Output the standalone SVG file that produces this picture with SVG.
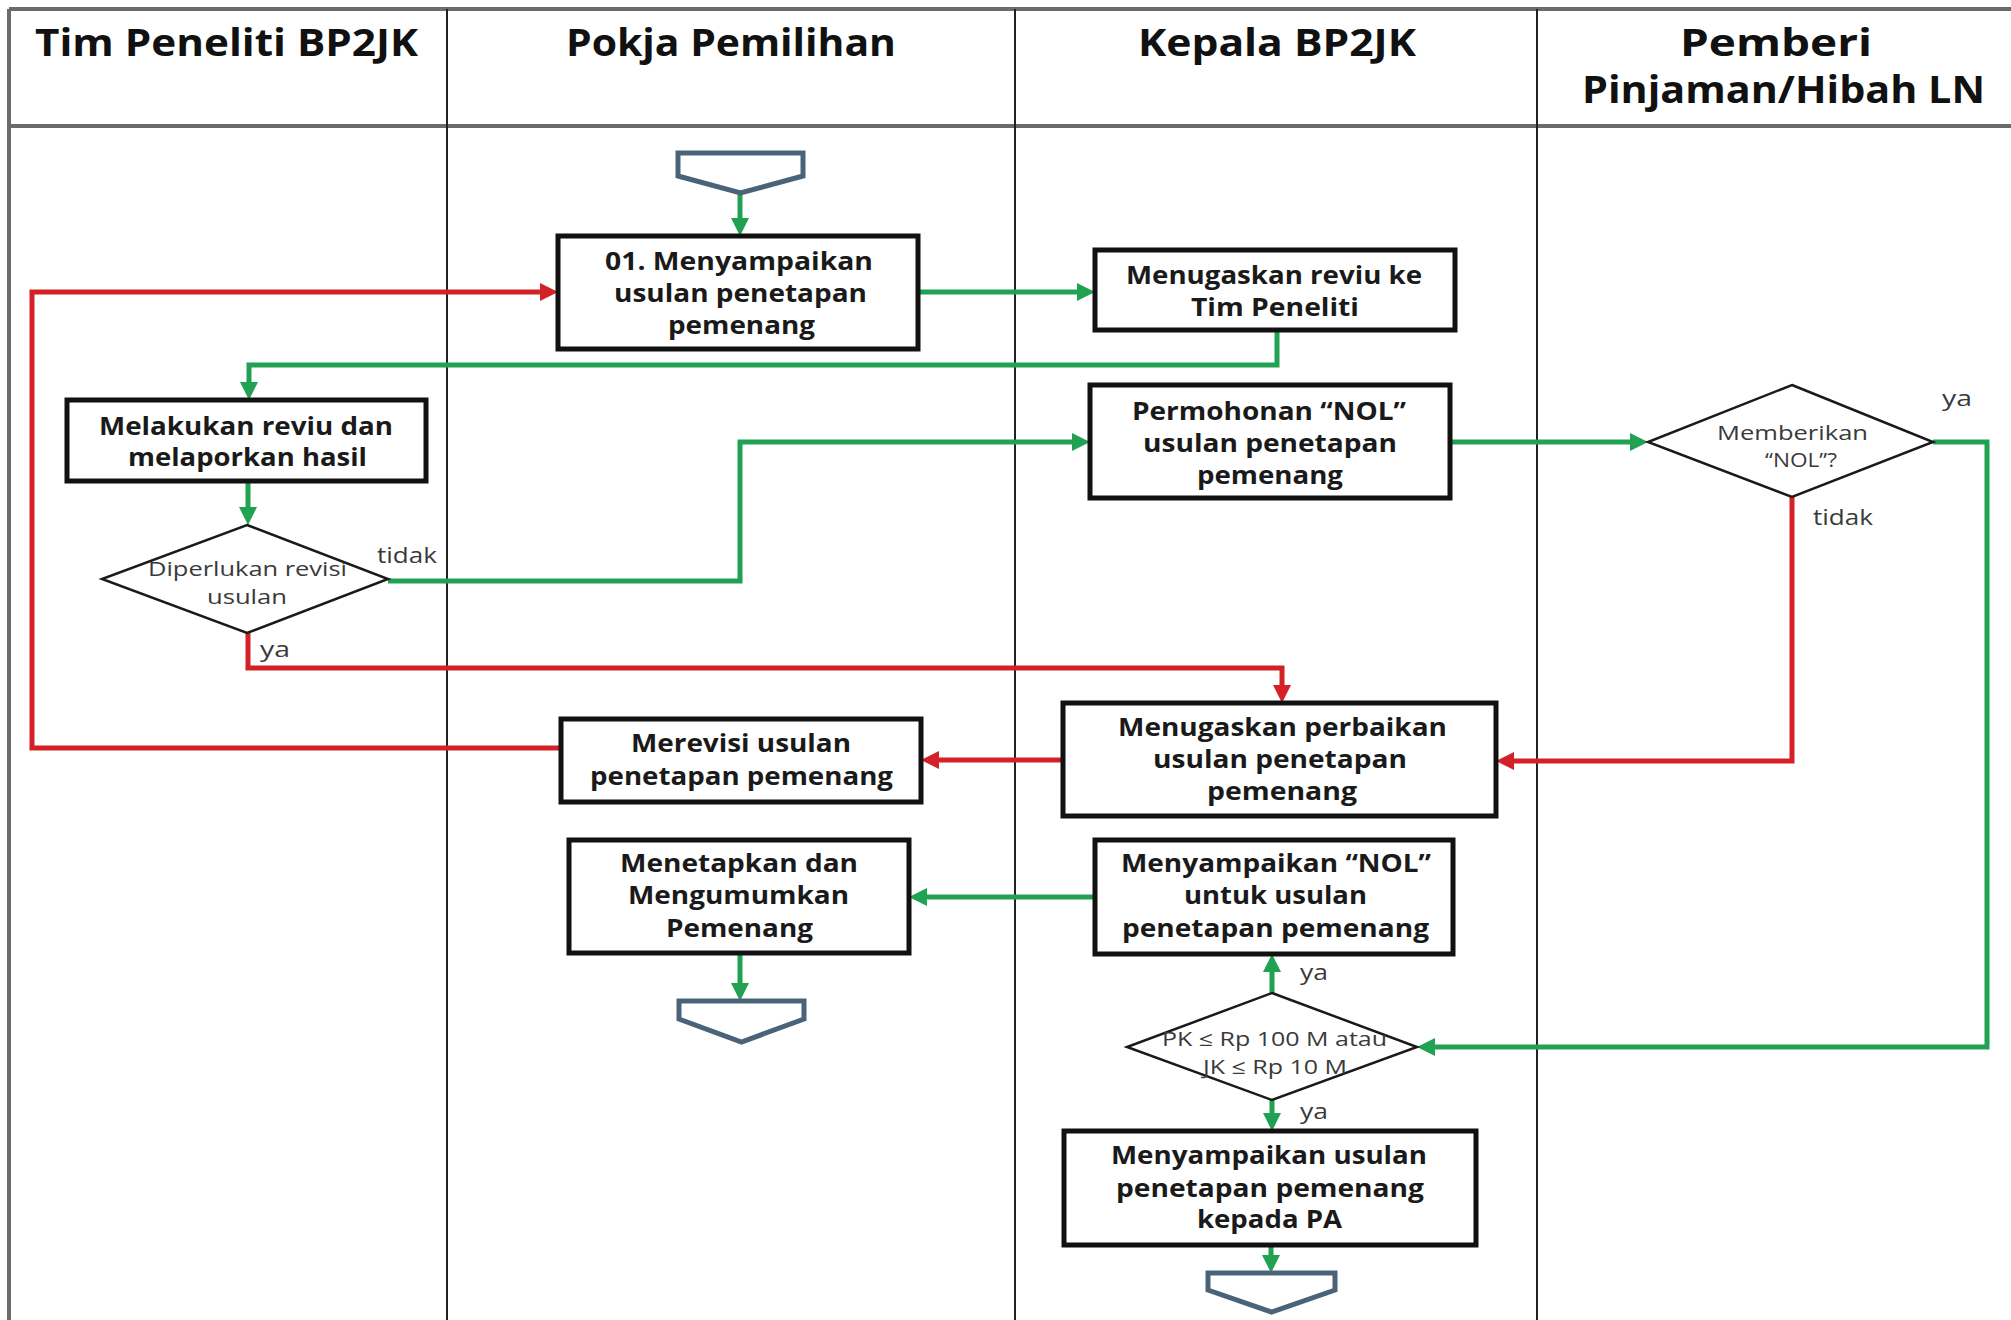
<svg xmlns="http://www.w3.org/2000/svg" width="2011" height="1320" viewBox="0 0 2011 1320">
  <style>
    .lane { stroke: #222; stroke-width: 2; fill: none; }
    .frame { stroke: #6b6b6b; stroke-width: 4; fill: none; }
    .head { font-family: "Open Sans", "DejaVu Sans", sans-serif; font-weight: 700; font-size: 37px; fill: #111; }
    .box { fill: #fff; stroke: #111; stroke-width: 5; }
    .btxt { font-family: "Open Sans", "DejaVu Sans", sans-serif; font-weight: 700; font-size: 25px; fill: #1a1a1a; }
    .dia { fill: #fff; stroke: #1a1a1a; stroke-width: 2.5; }
    .dtxt { font-family: "Open Sans", "DejaVu Sans", sans-serif; font-weight: 400; font-size: 20px; fill: #3a3a3a; }
    .lbl { font-family: "Open Sans", "DejaVu Sans", sans-serif; font-weight: 400; font-size: 21px; fill: #3a3a3a; }
    .term { fill: #fff; stroke: #4b6379; stroke-width: 5; stroke-linejoin: miter; }
    .g { fill: none; stroke: #21a152; stroke-width: 5; marker-end: url(#ag); }
    .r { fill: none; stroke: #d42027; stroke-width: 5; marker-end: url(#ar); }
  </style>
  <defs>
    <marker id="ag" markerUnits="userSpaceOnUse" viewBox="0 0 18 18" markerWidth="18" markerHeight="18" refX="10" refY="9" orient="auto">
      <path d="M0,0 L18,9 L0,18 Z" fill="#21a152"/>
    </marker>
    <marker id="ar" markerUnits="userSpaceOnUse" viewBox="0 0 18 18" markerWidth="18" markerHeight="18" refX="10" refY="9" orient="auto">
      <path d="M0,0 L18,9 L0,18 Z" fill="#d42027"/>
    </marker>
  </defs>

  <rect x="0" y="0" width="2011" height="1320" fill="#fff"/>

  <!-- swimlane grid -->
  <g id="lanes">
    <line class="frame" x1="9" y1="9" x2="2011" y2="9"/>
    <line class="frame" x1="9" y1="126" x2="2011" y2="126"/>
    <line class="frame" x1="9" y1="9" x2="9" y2="1320"/>
    <line class="lane" x1="447" y1="9" x2="447" y2="1320"/>
    <line class="lane" x1="1015" y1="9" x2="1015" y2="1320"/>
    <line class="lane" x1="1537" y1="9" x2="1537" y2="1320"/>
    <text class="head" x="35" y="56" textLength="383" lengthAdjust="spacingAndGlyphs">Tim Peneliti BP2JK</text>
    <text class="head" x="566" y="56" textLength="330" lengthAdjust="spacingAndGlyphs">Pokja Pemilihan</text>
    <text class="head" x="1138" y="56" textLength="278" lengthAdjust="spacingAndGlyphs">Kepala BP2JK</text>
    <text class="head" x="1680" y="56" textLength="192" lengthAdjust="spacingAndGlyphs">Pemberi</text>
    <text class="head" x="1582" y="103" textLength="403" lengthAdjust="spacingAndGlyphs">Pinjaman/Hibah LN</text>
  </g>

  <!-- connectors -->
  <g id="connectors">
    <path class="g" d="M740,193 V228"/>
    <path class="g" d="M918,292 H1087"/>
    <path class="g" d="M1277,330 V365 H249 V392"/>
    <path class="g" d="M248,481 V517"/>
    <path class="g" d="M388,581 H740 V442 H1082"/>
    <path class="g" d="M1450,442 H1640"/>
    <path class="g" d="M1933,442 H1987 V1047 H1425"/>
    <path class="g" d="M1272,993 V962"/>
    <path class="g" d="M1095,897 H917"/>
    <path class="g" d="M740,953 V993"/>
    <path class="g" d="M1272,1100 V1123"/>
    <path class="g" d="M1271,1245 V1265"/>
    <path class="r" d="M248,633 V668 H1282 V695"/>
    <path class="r" d="M1792,497 V761 H1504"/>
    <path class="r" d="M1063,760 H929"/>
    <path class="r" d="M561,748 H32 V292 H550"/>
    <text class="lbl" x="377" y="563" textLength="60" lengthAdjust="spacingAndGlyphs">tidak</text>
    <text class="lbl" x="260" y="657" textLength="30" lengthAdjust="spacingAndGlyphs">ya</text>
    <text class="lbl" x="1942" y="406" textLength="30" lengthAdjust="spacingAndGlyphs">ya</text>
    <text class="lbl" x="1813" y="525" textLength="60" lengthAdjust="spacingAndGlyphs">tidak</text>
    <text class="lbl" x="1300" y="980" textLength="28" lengthAdjust="spacingAndGlyphs">ya</text>
    <text class="lbl" x="1300" y="1119" textLength="28" lengthAdjust="spacingAndGlyphs">ya</text>
  </g>

  <!-- start / end off-page connectors -->
  <g id="start">
    <path class="term" d="M678,153 H803 V176 L740.5,193 L678,176 Z"/>
  </g>
  <g id="end-pokja">
    <path class="term" d="M679,1001 H804 V1019 L741.5,1042 L679,1019 Z"/>
  </g>
  <g id="end-kepala">
    <path class="term" d="M1208,1273 H1335 V1290 L1271.5,1312 L1208,1290 Z"/>
  </g>

  <!-- process boxes -->
  <g id="n01-menyampaikan">
    <rect class="box" x="558" y="236" width="360" height="113"/>
    <text class="btxt" x="605" y="270" textLength="268" lengthAdjust="spacingAndGlyphs">01. Menyampaikan</text>
    <text class="btxt" x="614" y="302" textLength="253" lengthAdjust="spacingAndGlyphs">usulan penetapan</text>
    <text class="btxt" x="668" y="334" textLength="147" lengthAdjust="spacingAndGlyphs">pemenang</text>
  </g>
  <g id="n02-menugaskan-reviu">
    <rect class="box" x="1095" y="250" width="360" height="80"/>
    <text class="btxt" x="1126" y="284" textLength="296" lengthAdjust="spacingAndGlyphs">Menugaskan reviu ke</text>
    <text class="btxt" x="1191" y="316" textLength="168" lengthAdjust="spacingAndGlyphs">Tim Peneliti</text>
  </g>
  <g id="n03-reviu">
    <rect class="box" x="67" y="400" width="359" height="81"/>
    <text class="btxt" x="99" y="435" textLength="294" lengthAdjust="spacingAndGlyphs">Melakukan reviu dan</text>
    <text class="btxt" x="128" y="466" textLength="239" lengthAdjust="spacingAndGlyphs">melaporkan hasil</text>
  </g>
  <g id="n04-permohonan-nol">
    <rect class="box" x="1090" y="385" width="360" height="113"/>
    <text class="btxt" x="1132" y="420" textLength="274" lengthAdjust="spacingAndGlyphs">Permohonan “NOL”</text>
    <text class="btxt" x="1143" y="452" textLength="254" lengthAdjust="spacingAndGlyphs">usulan penetapan</text>
    <text class="btxt" x="1197" y="484" textLength="146" lengthAdjust="spacingAndGlyphs">pemenang</text>
  </g>
  <g id="n05-perbaikan">
    <rect class="box" x="1063" y="703" width="433" height="113"/>
    <text class="btxt" x="1118" y="736" textLength="329" lengthAdjust="spacingAndGlyphs">Menugaskan perbaikan</text>
    <text class="btxt" x="1153" y="768" textLength="254" lengthAdjust="spacingAndGlyphs">usulan penetapan</text>
    <text class="btxt" x="1207" y="800" textLength="150" lengthAdjust="spacingAndGlyphs">pemenang</text>
  </g>
  <g id="n06-merevisi">
    <rect class="box" x="561" y="719" width="360" height="83"/>
    <text class="btxt" x="631" y="752" textLength="220" lengthAdjust="spacingAndGlyphs">Merevisi usulan</text>
    <text class="btxt" x="590" y="785" textLength="303" lengthAdjust="spacingAndGlyphs">penetapan pemenang</text>
  </g>
  <g id="n07-menyampaikan-nol">
    <rect class="box" x="1095" y="840" width="358" height="114"/>
    <text class="btxt" x="1121" y="872" textLength="310" lengthAdjust="spacingAndGlyphs">Menyampaikan “NOL”</text>
    <text class="btxt" x="1184" y="904" textLength="183" lengthAdjust="spacingAndGlyphs">untuk usulan</text>
    <text class="btxt" x="1122" y="937" textLength="307" lengthAdjust="spacingAndGlyphs">penetapan pemenang</text>
  </g>
  <g id="n08-menetapkan">
    <rect class="box" x="569" y="840" width="340" height="113"/>
    <text class="btxt" x="620" y="872" textLength="238" lengthAdjust="spacingAndGlyphs">Menetapkan dan</text>
    <text class="btxt" x="628" y="904" textLength="221" lengthAdjust="spacingAndGlyphs">Mengumumkan</text>
    <text class="btxt" x="666" y="937" textLength="147" lengthAdjust="spacingAndGlyphs">Pemenang</text>
  </g>
  <g id="n09-kepada-pa">
    <rect class="box" x="1064" y="1131" width="412" height="114"/>
    <text class="btxt" x="1111" y="1164" textLength="316" lengthAdjust="spacingAndGlyphs">Menyampaikan usulan</text>
    <text class="btxt" x="1116" y="1197" textLength="308" lengthAdjust="spacingAndGlyphs">penetapan pemenang</text>
    <text class="btxt" x="1197" y="1228" textLength="145" lengthAdjust="spacingAndGlyphs">kepada PA</text>
  </g>

  <!-- decisions -->
  <g id="d1-revisi">
    <polygon class="dia" points="247,525 388,579 247,633 102,579"/>
    <text class="dtxt" x="148" y="576" textLength="199" lengthAdjust="spacingAndGlyphs">Diperlukan revisi</text>
    <text class="dtxt" x="207" y="604" textLength="80" lengthAdjust="spacingAndGlyphs">usulan</text>
  </g>
  <g id="d2-nol">
    <polygon class="dia" points="1792,385 1933,442 1792,497 1648,442"/>
    <text class="dtxt" x="1717" y="440" textLength="151" lengthAdjust="spacingAndGlyphs">Memberikan</text>
    <text class="dtxt" x="1765" y="467" textLength="72" lengthAdjust="spacingAndGlyphs">“NOL”?</text>
  </g>
  <g id="d3-nilai">
    <polygon class="dia" points="1272,993 1417,1047 1272,1100 1127,1047"/>
    <text class="dtxt" x="1162" y="1046" textLength="225" lengthAdjust="spacingAndGlyphs">PK ≤ Rp 100 M atau</text>
    <text class="dtxt" x="1203" y="1074" textLength="144" lengthAdjust="spacingAndGlyphs">JK ≤ Rp 10 M</text>
  </g>
</svg>
